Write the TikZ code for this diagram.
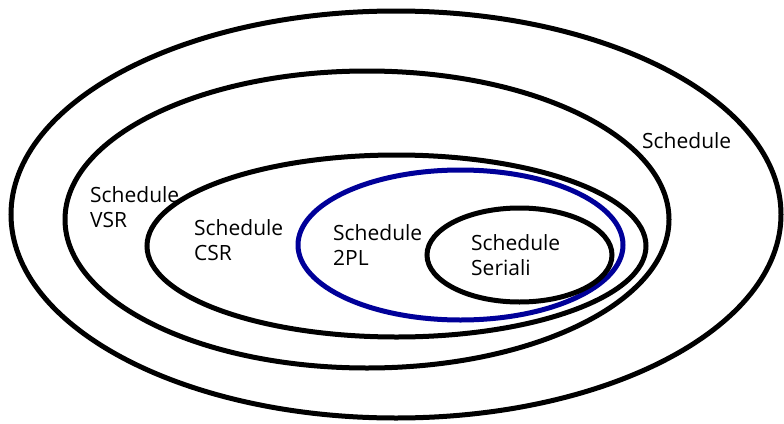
\documentclass[tikz,border=0pt]{standalone}
\usepackage{fontspec}
\setmainfont{Open Sans}
\definecolor{K}{RGB}{0,0,0}
\definecolor{B}{RGB}{0,0,153}
\newcommand{\setellipse}[5]{
\draw[color=#1, line width=5pt] (#2,#3) ellipse [x radius=#4, y radius=#5];
}
\newcommand{\setlabel}[4]{\node[anchor=north west, inner sep=0pt, align=left, font=\fontsize{21}{25}\selectfont] (#1) at (#2,#3) {#4};}

\begin{document}
\begin{tikzpicture}[x=1pt,y=-1pt]
\useasboundingbox (0,0) rectangle (784,423);
\setellipse{K}{396}{214.5}{385}{203.5}
\setellipse{K}{367}{219.5}{302}{148.5}
\setellipse{K}{396.5}{246}{249.5}{91}
\setellipse{B}{460.5}{245}{162.5}{75}
\setellipse{K}{519.5}{255}{92.5}{47}
\setlabel{all}{642}{132}{Schedule}
\setlabel{vsr}{90}{186}{Schedule\\VSR}
\setlabel{csr}{194}{219}{Schedule\\CSR}
\setlabel{twopl}{333}{224}{Schedule\\2PL}
\setlabel{serial}{471}{234}{Schedule\\Seriali}
\end{tikzpicture}
\end{document}
